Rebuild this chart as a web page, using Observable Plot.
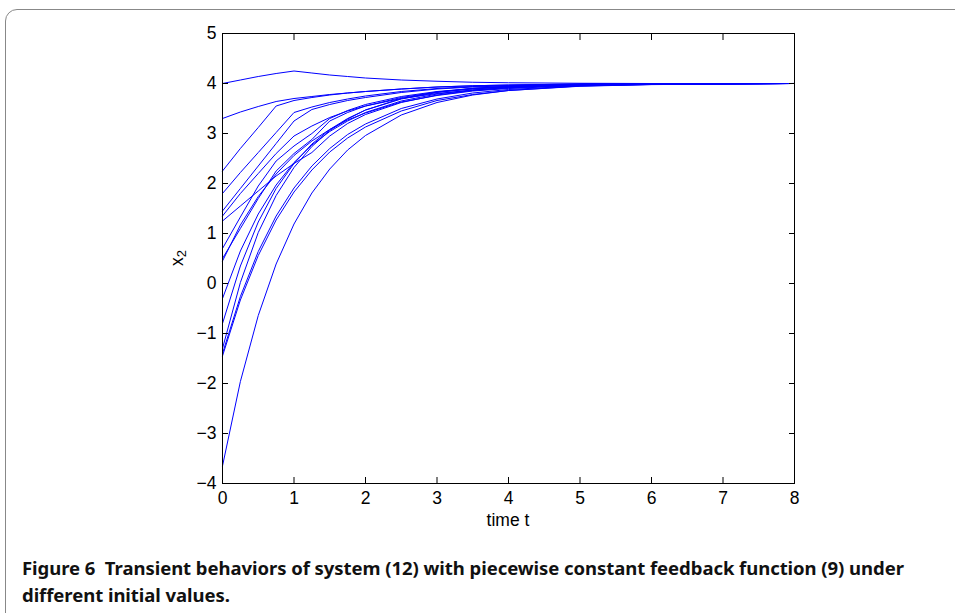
<!DOCTYPE html>
<html>
<head>
<meta charset="utf-8">
<script src="https://cdn.jsdelivr.net/npm/d3@7"></script>
<script src="https://cdn.jsdelivr.net/npm/@observablehq/plot@0.6"></script>
<style>
  html, body { margin: 0; padding: 0; background: #fff; width: 955px; height: 613px; overflow: hidden; }
  #wrap { position: relative; width: 955px; height: 613px; }
  #box { position: absolute; left: 5px; top: 9px; width: 1000px; height: 700px; border: 1.5px solid #888; border-radius: 12px; }
  #chart { position: absolute; left: 0; top: 0; }
  #xlabel { position: absolute; left: 0; width: 1016px; top: 510px; text-align: center; font: 17.5px "Liberation Sans", Arial, sans-serif; color: #000; }
  #ylabel { position: absolute; left: 178px; top: 258px; transform: translate(-50%, -50%) rotate(-90deg); font: 17.5px "Liberation Sans", Arial, sans-serif; color: #000; white-space: nowrap; }
  #ylabel sub { font-size: 13px; vertical-align: -3px; }
  #caption { position: absolute; left: 22px; top: 554px; width: 930px; font: bold 18.5px "Noto Sans", sans-serif; letter-spacing: -0.05px; line-height: 27px; color: #111; white-space: nowrap; }
</style>
</head>
<body>
<div id="wrap">
  <div id="box"></div>
  <div id="chart"></div>
  <div id="xlabel">time t</div>
  <div id="ylabel">x<sub>2</sub></div>
  <div id="caption">Figure 6&nbsp; Transient behaviors of system (12) with piecewise constant feedback function (9) under<br>different initial values.</div>
</div>
<script>
// Sample times (shared by all curves)
const T = [0, 0.25, 0.5, 0.75, 1, 1.25, 1.5, 1.75, 2, 2.5, 3, 3.5, 4, 5, 6, 8];

// x2 trajectories
const c01 = [4.0, 4.07, 4.14, 4.2, 4.25, 4.21, 4.17, 4.14, 4.11, 4.07, 4.045, 4.025, 4.015, 4.005, 4.0, 4.0];
const c02 = [3.3, 3.43, 3.54, 3.64, 3.7, 3.74, 3.78, 3.81, 3.84, 3.89, 3.93, 3.955, 3.97, 3.99, 4.0, 4.0];
const c03 = [2.25, 2.7, 3.12, 3.55, 3.66, 3.72, 3.77, 3.81, 3.84, 3.89, 3.93, 3.955, 3.97, 3.99, 4.0, 4.0];
const c04 = [1.8, 2.22, 2.62, 3.02, 3.42, 3.53, 3.62, 3.69, 3.75, 3.84, 3.9, 3.94, 3.96, 3.985, 3.995, 4.0];
const c05 = [1.45, 1.9, 2.35, 2.8, 3.25, 3.48, 3.58, 3.66, 3.72, 3.82, 3.89, 3.93, 3.955, 3.985, 3.995, 4.0];
const c06 = [1.35, 1.8, 2.2, 2.6, 2.95, 3.15, 3.32, 3.45, 3.55, 3.7, 3.8, 3.87, 3.92, 3.97, 3.99, 4.0];
const c07 = [1.25, 1.55, 1.85, 2.15, 2.4, 2.62, 2.95, 3.2, 3.38, 3.62, 3.77, 3.86, 3.91, 3.97, 3.99, 4.0];
const c08 = [0.7, 1.33, 1.95, 2.45, 2.75, 3.0, 3.3, 3.46, 3.58, 3.74, 3.84, 3.9, 3.94, 3.98, 3.995, 4.0];
const c09 = [0.5, 1.1, 1.7, 2.25, 2.6, 2.88, 3.25, 3.42, 3.55, 3.72, 3.83, 3.89, 3.93, 3.975, 3.99, 4.0];
const c10 = [0.45, 1.17, 1.74, 2.19, 2.56, 2.85, 3.08, 3.27, 3.41, 3.63, 3.76, 3.85, 3.9, 3.96, 3.985, 4.0];
const c11 = [-0.3, 0.65, 1.39, 1.97, 2.42, 2.77, 3.04, 3.25, 3.42, 3.65, 3.79, 3.87, 3.92, 3.97, 3.99, 4.0];
const c12 = [-0.8, 0.35, 1.23, 1.9, 2.4, 2.79, 3.08, 3.3, 3.47, 3.69, 3.82, 3.9, 3.94, 3.98, 3.993, 4.0];
const c13 = [-1.3, 0.02, 1.02, 1.76, 2.32, 2.74, 3.06, 3.29, 3.47, 3.7, 3.83, 3.905, 3.946, 3.983, 3.995, 4.0];
const c14 = [-1.4, -0.26, 0.64, 1.35, 1.91, 2.35, 2.7, 2.98, 3.19, 3.5, 3.69, 3.81, 3.88, 3.953, 3.982, 4.0];
const c15 = [-1.45, -0.33, 0.56, 1.27, 1.83, 2.27, 2.63, 2.91, 3.13, 3.45, 3.66, 3.78, 3.86, 3.945, 3.978, 4.0];
const c16 = [-3.65, -1.96, -0.64, 0.39, 1.19, 1.81, 2.29, 2.67, 2.96, 3.37, 3.62, 3.77, 3.86, 3.95, 3.98, 4.0];

const series = [c01, c02, c03, c04, c05, c06, c07, c08, c09, c10, c11, c12, c13, c14, c15, c16];

const xTicks = [0, 1, 2, 3, 4, 5, 6, 7, 8];
const yTicks = [-4, -3, -2, -1, 0, 1, 2, 3, 4, 5];

const data = series.flatMap((s, i) => s.map((v, j) => ({t: T[j], v, id: i})));

const blank = () => "";
const intFmt = d => (d < 0 ? "\u2212" : "") + Math.abs(d);
const chart = Plot.plot({
  width: 955,
  height: 540,
  marginLeft: 222,
  marginRight: 161,
  marginTop: 33,
  marginBottom: 57,
  style: {fontFamily: "'Liberation Sans', Arial, sans-serif", fontSize: "17.5px", color: "#000", background: "transparent"},
  x: {domain: [0, 8]},
  y: {domain: [-4, 5]},
  marks: [
    Plot.line(data, {x: "t", y: "v", z: "id", stroke: "#0000ff", strokeWidth: 1}),
    Plot.axisX(xTicks, {anchor: "bottom", tickSize: -6, tickPadding: 14, tickFormat: intFmt, label: null, fill: "#000"}),
    Plot.axisX(xTicks, {anchor: "top", tickSize: -6, tickFormat: blank, label: null}),
    Plot.axisY(yTicks, {anchor: "left", tickSize: -6, tickPadding: 12, tickFormat: intFmt, label: null, fill: "#000"}),
    Plot.axisY(yTicks, {anchor: "right", tickSize: -6, tickFormat: blank, label: null}),
    Plot.frame({stroke: "#000", strokeWidth: 1})
  ]
});
document.getElementById("chart").appendChild(chart);
</script>
</body>
</html>
